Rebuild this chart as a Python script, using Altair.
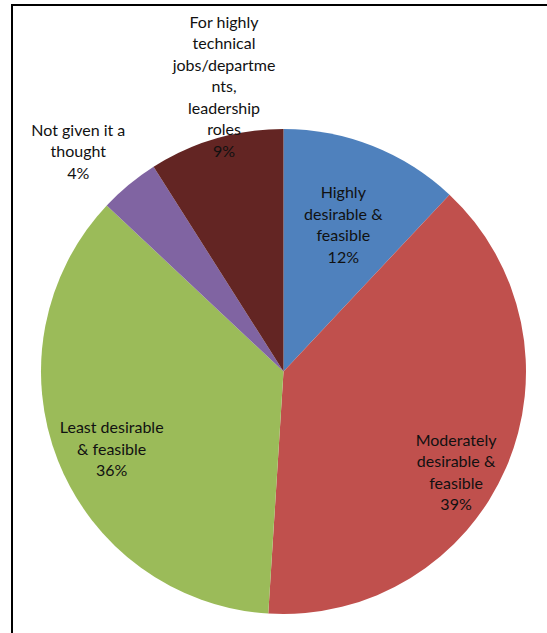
import altair as alt
import pandas as pd

categories = [
    "Highly desirable & feasible",
    "Moderately desirable & feasible",
    "Least desirable & feasible",
    "Not given it a thought",
    "For highly technical jobs/departments, leadership roles",
]
values = [12, 39, 36, 4, 9]
label_lines = [
    "Highly\ndesirable &\nfeasible",
    "Moderately\ndesirable &\nfeasible",
    "Least desirable\n& feasible",
    "Not given it a\nthought",
    "For highly\ntechnical\njobs/departme\nnts,\nleadership\nroles",
]
colors = ["#4F81BD", "#C0504D", "#9BBB59", "#8064A2", "#632523"]

df = pd.DataFrame({
    "category": categories,
    "value": values,
    "order": list(range(len(categories))),
    "label": [f"{l}\n{v}%" for l, v in zip(label_lines, values)],
})

total = sum(values)
theta_scale = alt.Scale(domain=[0, total], range=[0, 6.283185307179586])

base = alt.Chart(df)

pie = base.mark_arc(stroke=None).encode(
    theta=alt.Theta("value:Q", stack=True),
    color=alt.Color("category:N", scale=alt.Scale(domain=categories, range=colors), legend=None),
    order=alt.Order("order:Q"),
)

LINE_H = 21.5
# label placement: (radius, dx, dy) per slice; dy is for the block's centre
placement = [
    (157, 2, 0),
    (200, -11, 22),
    (188, 3, 9),
    (300, -14, 12),
    (292, 22, -4),
]

label_layers = []
for cat, lab, (r, dx, dy) in zip(categories, df["label"], placement):
    n_lines = lab.count("\n") + 1
    t = (
        base.transform_window(cum="sum(value)", sort=[alt.SortField("order")])
        .transform_calculate(mid="datum.cum - datum.value / 2")
        .transform_filter(alt.datum.category == cat)
        .mark_text(
            radius=r, dx=dx, dy=dy - (n_lines - 1) / 2 * LINE_H,
            lineBreak="\n", lineHeight=LINE_H,
            font="Lato", fontSize=16, color="#111111", align="center", baseline="middle",
        )
        .encode(
            theta=alt.Theta("mid:Q", scale=theta_scale),
            text="label:N",
        )
    )
    label_layers.append(t)

frame_v = base.mark_rule(color="#000", strokeWidth=2).encode(
    x=alt.value(-29), y=alt.value(-124), y2=alt.value(510)
)
frame_h = base.mark_rule(color="#000", strokeWidth=2).encode(
    x=alt.value(-30), x2=alt.value(510), y=alt.value(-124)
)

chart = alt.layer(pie, *label_layers, frame_v, frame_h).properties(
    width=485,
    height=485,
    autosize=alt.AutoSizeParams(type="none"),
    padding={"left": 41, "top": 129, "right": 21, "bottom": 19},
).configure_view(stroke=None).resolve_scale(theta="independent")

chart.save("out.html", embed_options={"renderer": "svg", "actions": False})
